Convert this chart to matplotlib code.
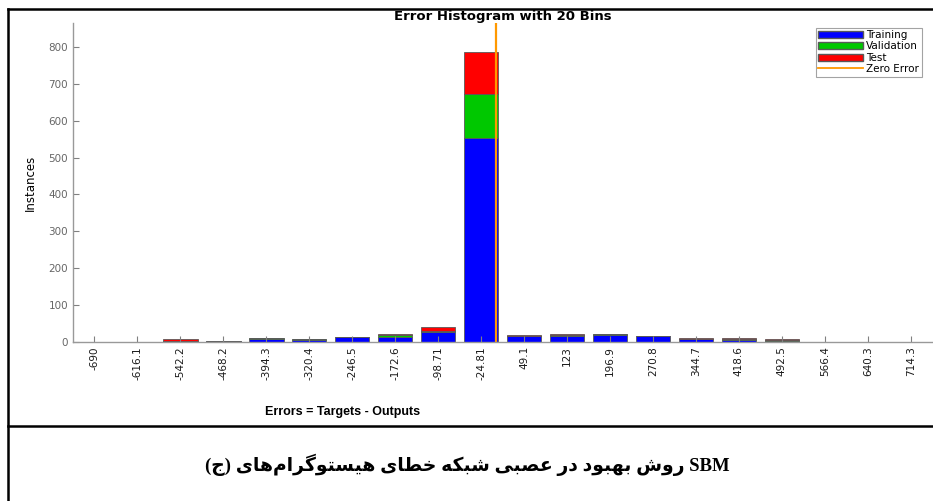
import numpy as np
import matplotlib
matplotlib.use("Agg")
import matplotlib.pyplot as plt
from matplotlib.patches import Patch
from matplotlib.lines import Line2D

# bin centres shown as tick labels
bin_labels = ["-690", "-616.1", "-542.2", "-468.2", "-394.3", "-320.4", "-246.5",
              "-172.6", "-98.71", "-24.81", "49.1", "123", "196.9", "270.8",
              "344.7", "418.6", "492.5", "566.4", "640.3", "714.3"]
bin_centers = [float(s) for s in bin_labels]

training   = [0, 0, 2, 2, 8, 6, 14, 14, 27, 553, 16, 17, 18, 15, 8, 6, 2, 0, 0, 0]
validation = [0, 0, 0, 1, 2, 1, 0, 4, 4, 119, 1, 2, 3, 0, 1, 3, 4, 0, 0, 0]
test       = [0, 0, 6, 0, 0, 0, 0, 4, 10, 114, 3, 3, 0, 0, 3, 1, 2, 0, 0, 0]

title = "Error Histogram with 20 Bins"
xlabel = "Errors = Targets - Outputs"
ylabel = "Instances"
caption_words = ["(ج)", "هیستوگرام‌های", "خطای", "شبکه", "عصبی", "در", "بهبود", "روش", "SBM"]

# presentation forms: isolated, final, initial, medial
FORMS = {
    'ا': '\uFE8D\uFE8E', 'ب': '\uFE8F\uFE90\uFE91\uFE92', 'ت': '\uFE95\uFE96\uFE97\uFE98',
    'ج': '\uFE9D\uFE9E\uFE9F\uFEA0', 'خ': '\uFEA5\uFEA6\uFEA7\uFEA8', 'د': '\uFEA9\uFEAA',
    'ر': '\uFEAD\uFEAE', 'س': '\uFEB1\uFEB2\uFEB3\uFEB4', 'ش': '\uFEB5\uFEB6\uFEB7\uFEB8',
    'ص': '\uFEB9\uFEBA\uFEBB\uFEBC', 'ط': '\uFEC1\uFEC2\uFEC3\uFEC4', 'ع': '\uFEC9\uFECA\uFECB\uFECC',
    'م': '\uFEE1\uFEE2\uFEE3\uFEE4', 'ه': '\uFEE9\uFEEA\uFEEB\uFEEC', 'و': '\uFEED\uFEEE',
    'ک': '\uFB8E\uFB8F\uFB90\uFB91', 'گ': '\uFB92\uFB93\uFB94\uFB95', 'ی': '\uFBFC\uFBFD\uFBFE\uFBFF',
}


def shape_word(w):
    if not any(ch in FORMS for ch in w):
        return w
    out = []
    for i, ch in enumerate(w):
        if ch not in FORMS:
            if ch != '\u200c':
                out.append(ch)
            continue
        prev = w[i - 1] if i > 0 else ''
        nxt = w[i + 1] if i + 1 < len(w) else ''
        jp = prev in FORMS and len(FORMS[prev]) == 4
        jn = nxt in FORMS and len(FORMS[ch]) == 4
        idx = 3 if (jp and jn) else 1 if jp else 2 if jn else 0
        out.append(FORMS[ch][idx])
    s = ''.join(reversed(out))
    # keep brackets in their visual place
    return s.replace(')', '\0').replace('(', ')').replace('\0', '(')


fig = plt.figure(figsize=(9.33, 5.01), dpi=100)
ax = fig.add_axes([0.0782, 0.3174, 0.921, 0.6367])

tr = np.array(training)
va = np.array(validation)
te = np.array(test)
bw = (bin_centers[1] - bin_centers[0]) * 0.8
ec = "0.35"
ax.bar(bin_centers, tr, width=bw, color="#0000FF", edgecolor=ec, linewidth=0.6)
ax.bar(bin_centers, va, width=bw, bottom=tr, color="#00C800", edgecolor=ec, linewidth=0.6)
ax.bar(bin_centers, te, width=bw, bottom=tr + va, color="#FF0000", edgecolor=ec, linewidth=0.6)
ax.axvline(0, color="#FF9900", linewidth=1.6)

step = bin_centers[1] - bin_centers[0]
ax.set_xlim(bin_centers[0] - step / 2, bin_centers[-1] + step / 2)
ax.set_ylim(0, (tr + va + te).max() * 1.1)
ax.set_yticks(range(0, 801, 100))
ax.set_xticks(bin_centers)
ax.set_xticklabels(bin_labels, rotation=90, fontsize=7.5,
                   family=["Liberation Sans Narrow", "DejaVu Sans"], color="0.1")
for lab in ax.get_yticklabels():
    lab.set_fontsize(7.5)
    lab.set_color("0.4")
    lab.set_family("DejaVu Sans")
ax.tick_params(direction="in", length=4, width=0.8, color="0.5")
ax.tick_params(axis="x", pad=3)
for s in ["top", "right"]:
    ax.spines[s].set_visible(False)
for s in ["left", "bottom"]:
    ax.spines[s].set_color("0.6")
    ax.spines[s].set_linewidth(1.0)

ax.set_title(title, fontsize=9.5, fontweight="bold", family="DejaVu Sans", pad=1)
ax.set_ylabel(ylabel, fontsize=8.5, family=["Liberation Sans Narrow", "DejaVu Sans"], labelpad=8)

handles = [Patch(facecolor="#0000FF", edgecolor="0.35", label="Training"),
           Patch(facecolor="#00C800", edgecolor="0.35", label="Validation"),
           Patch(facecolor="#FF0000", edgecolor="0.35", label="Test"),
           Line2D([], [], color="#FF9900", linewidth=1.3, label="Zero Error")]
leg = ax.legend(handles=handles, loc="upper right", bbox_to_anchor=(0.9875, 0.9855),
                fontsize=7.5, frameon=True, fancybox=False, edgecolor="0.55",
                handlelength=4.3, handleheight=0.65, handletextpad=0.3,
                labelspacing=0.12, borderpad=0.25, borderaxespad=0)
leg.get_frame().set_linewidth(0.8)

fig.text(343 / 933, 1 - 412 / 501, xlabel, ha="center", va="center",
         fontsize=9, fontweight="bold", family="Liberation Sans")

caption = " ".join(shape_word(w) for w in caption_words)
fig.text(467 / 933, 1 - 465 / 501, caption, ha="center", va="center",
         fontsize=13.5, fontweight="bold", family=["Liberation Serif", "DejaVu Sans"])

# frame lines of the table cell
for xs, ys in [([8, 933], [9, 9]), ([8, 8], [9, 501]), ([8, 933], [426, 426])]:
    fig.add_artist(Line2D([x / 933 for x in xs], [1 - y / 501 for y in ys],
                          transform=fig.transFigure, color="black", linewidth=1.8))

fig.savefig("out.png", dpi=100)
